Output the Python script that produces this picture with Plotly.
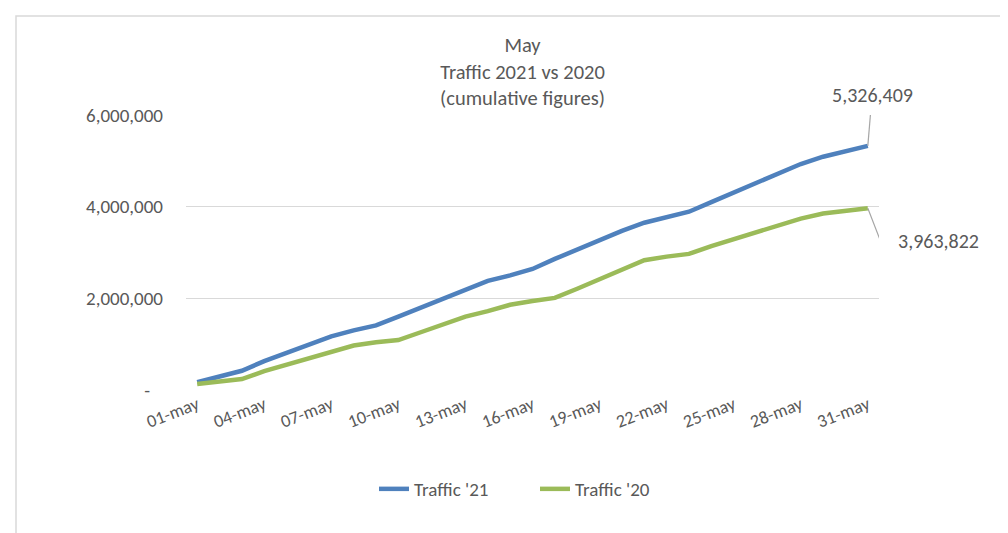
import plotly.graph_objects as go

days = [f"{d:02d}-may" for d in range(1, 32)]
tick_days = days[::3]

traffic_21 = [170000, 290000, 420000, 630000, 810000, 980000, 1170000, 1300000, 1410000, 1600000,
              1790000, 1990000, 2190000, 2380000, 2500000, 2640000, 2860000, 3070000, 3270000, 3470000,
              3650000, 3760000, 3890000, 4100000, 4310000, 4520000, 4740000, 4930000, 5090000, 5210000,
              5326409]
traffic_20 = [130000, 190000, 240000, 410000, 550000, 680000, 810000, 970000, 1040000, 1090000,
              1260000, 1430000, 1600000, 1720000, 1860000, 1940000, 2010000, 2210000, 2410000, 2620000,
              2830000, 2910000, 2970000, 3140000, 3290000, 3420000, 3590000, 3740000, 3850000, 3910000,
              3963822]

title_lines = ["May", "Traffic 2021 vs 2020", "(cumulative figures)"]
y_ticks = [0, 2000000, 4000000, 6000000]
y_ticktext = ["-\u00a0\u00a0\u00a0", "2,000,000", "4,000,000", "6,000,000"]

FONT = "Carlito, Lato, 'Open Sans', sans-serif"
TXT = "#595959"
BLUE = "#4F81BD"
GREEN = "#9BBB59"

fig = go.Figure()
fig.add_trace(go.Scatter(x=days, y=traffic_21, mode="lines", name="Traffic '21",
                         line=dict(color=BLUE, width=4.5)))
fig.add_trace(go.Scatter(x=days, y=traffic_20, mode="lines", name="Traffic '20",
                         line=dict(color=GREEN, width=4.5)))

W, H = 1008, 533
L, R, T, B = 178, 137, 107, 151
pw, ph = W - L - R, H - T - B

def px_x(p):
    return (p - L) / pw

def px_y(p):
    return (H - B - p) / ph

fig.update_layout(
    width=W, height=H,
    margin=dict(l=L, r=R, t=T, b=B, autoexpand=False),
    paper_bgcolor="white", plot_bgcolor="white",
    font=dict(family=FONT, color=TXT, size=19),
    xaxis=dict(type="category", range=[-0.5, 30.5], tickmode="array", tickvals=tick_days,
               ticktext=tick_days, tickangle=-21, showgrid=False, showline=False, zeroline=False,
               tickfont=dict(size=18, color=TXT), ticks=""),
    yaxis=dict(range=[0, 6000000], tickmode="array", tickvals=y_ticks, ticktext=y_ticktext,
               showgrid=True, gridcolor="#D9D9D9", gridwidth=1, zeroline=False, showline=False,
               tickfont=dict(size=19, color=TXT), ticklabelstandoff=22, ticks=""),
    legend=dict(orientation="h", x=px_x(366), xanchor="left", y=px_y(481), yanchor="middle",
                font=dict(size=19, color=TXT), itemwidth=30, entrywidth=116,
                bgcolor="rgba(0,0,0,0)"),
    showlegend=True,
)

# title as one multi-line text block
fig.add_annotation(text="<br>".join(title_lines), xref="paper", yref="paper",
                   x=px_x(514), y=px_y(63), xanchor="center", yanchor="middle",
                   showarrow=False, align="center",
                   font=dict(family=FONT, size=20.5, color=TXT))

# chart border (light gray frame like the spreadsheet chart area)
fig.add_shape(type="rect", xref="paper", yref="paper",
              x0=px_x(8), x1=px_x(1030), y0=px_y(560), y1=px_y(8),
              line=dict(color="#D9D9D9", width=1.5), fillcolor="rgba(0,0,0,0)", layer="below")

last = days[-1]
# leader lines for data labels
fig.add_shape(type="path", xref="x", yref="y", xsizemode="pixel", ysizemode="pixel",
              xanchor=last, yanchor=traffic_21[-1], path="M0,0 L3,36",
              line=dict(color="#A6A6A6", width=1.2))
fig.add_shape(type="path", xref="x", yref="y", xsizemode="pixel", ysizemode="pixel",
              xanchor=last, yanchor=traffic_20[-1], path="M0,0 L12,-31 L21,-31",
              line=dict(color="#A6A6A6", width=1.2))

fig.add_annotation(x=last, y=traffic_21[-1], text=f"{traffic_21[-1]:,}", showarrow=False,
                   xanchor="center", yanchor="middle", xshift=5, yshift=51,
                   font=dict(size=20, color=TXT, family=FONT))
fig.add_annotation(x=last, y=traffic_20[-1], text=f"{traffic_20[-1]:,}", showarrow=False,
                   xanchor="left", yanchor="middle", xshift=28, yshift=-33,
                   font=dict(size=20, color=TXT, family=FONT))

fig.write_html("out.html")
